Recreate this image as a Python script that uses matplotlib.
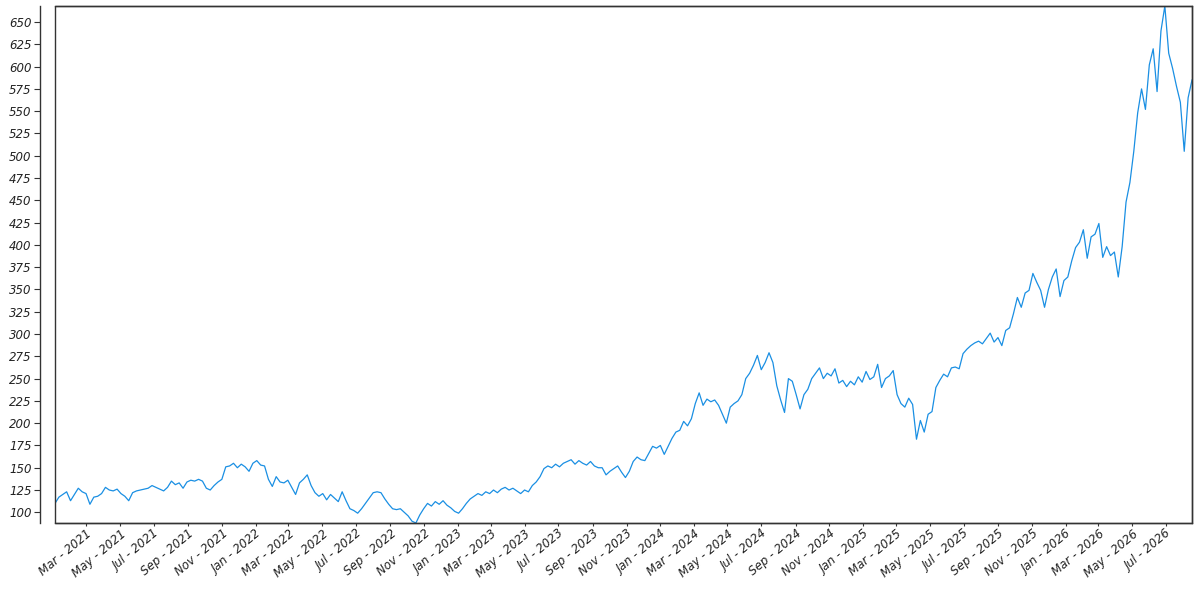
import matplotlib
matplotlib.use("Agg")
import matplotlib.pyplot as plt
import matplotlib.dates as mdates
from matplotlib.patches import Rectangle
import pandas as pd

plt.rcParams["font.family"] = ["DejaVu Sans"]
plt.rcParams["font.style"] = "italic"

start_date = "2021-01-04"

prices_2021_2022 = [
    110, 117, 120, 123, 113, 120, 127, 123, 121, 109, 117, 118, 121, 128, 125, 124,
    126, 121, 118, 113, 122, 124, 125, 126, 127, 130, 128, 126, 124, 128, 135, 131,
    133, 127, 134, 136, 135, 137, 135, 127, 125, 130, 134, 137, 151, 152, 155, 150,
    154, 151, 146, 155, 158, 153, 152, 137, 129, 140, 134, 133, 136, 128, 120, 133,
    137, 142, 130, 122, 118, 121, 114, 120, 116, 112, 123, 113, 104, 102, 99, 104,
    110, 116, 122, 123, 122, 115, 109, 104, 103,
]
prices_2022_2024 = [
    104, 100, 96, 90, 88, 97, 104, 110, 107, 112, 109, 113, 108, 105, 101, 99,
    104, 110, 115, 118, 121, 119, 123, 121, 125, 122, 126, 128, 125, 127, 124, 121,
    125, 123, 130, 134, 140, 149, 152, 150, 154, 151, 155, 157, 159, 154, 158, 155,
    153, 157, 152, 150,
]
prices_2024_2025 = [
    150, 142, 146, 149, 152, 145, 139, 146, 157, 162, 159, 158, 166, 174, 172, 175,
    165, 174, 183, 190, 192, 202, 197, 205, 222, 234, 220, 227, 224, 226, 220, 210,
    200, 218, 222, 225, 232, 250, 256, 265, 276, 260, 268, 279, 268, 242, 226, 212,
    250, 247, 232, 216, 232, 238, 250, 256, 262, 250, 256, 253, 261, 245, 248, 241,
    247, 243, 252, 246, 258, 249, 252, 266, 240, 250, 253, 259, 232, 222, 218, 228,
    221, 182, 203, 190, 210, 213, 240, 248, 255, 252, 262, 263, 261,
]
prices_2025_2026 = [
    278, 283, 287, 290, 292, 289, 295, 301, 291, 296, 287, 304, 307, 323, 341, 330,
    346, 349, 368, 358, 349, 330, 350, 364, 373, 342, 360, 364, 382, 397, 403, 417,
    385, 409, 412, 424, 386, 398, 388, 392, 364, 398, 448, 470, 505, 548, 575, 552,
    602, 620, 572, 640, 668, 615, 598, 578, 560, 505, 565, 585,
]

values = prices_2021_2022 + prices_2022_2024 + prices_2024_2025 + prices_2025_2026
dates = pd.date_range(start_date, periods=len(values), freq="7D")

line_color = "#1a8fe3"
frame_color = "#333333"

fig = plt.figure(figsize=(12, 6), dpi=100)
ax = fig.add_axes([55 / 1200, 1 - 523 / 600, (1192 - 55) / 1200, (523 - 6) / 600])

ax.plot(dates, values, color=line_color, linewidth=0.9)
ax.margins(x=0, y=0)

ax.spines["left"].set_position(("outward", 10.8))
for side in ["left", "bottom", "top", "right"]:
    ax.spines[side].set_color(frame_color)
    ax.spines[side].set_linewidth(1.0)
ax.add_patch(Rectangle((0, 0), 1, 1, transform=ax.transAxes, fill=False,
                       edgecolor=frame_color, linewidth=1.0, clip_on=False, zorder=5))

ax.set_yticks(list(range(100, 651, 25)))
ax.xaxis.set_major_locator(mdates.MonthLocator(bymonth=[1, 3, 5, 7, 9, 11]))
ax.xaxis.set_major_formatter(mdates.DateFormatter("%b - %Y"))

ax.tick_params(axis="y", length=4, width=0.8, color=frame_color, labelsize=8.5,
               pad=2, labelcolor="#222222")
ax.tick_params(axis="x", length=2, width=0.8, color=frame_color, labelsize=8.5,
               pad=1, labelcolor="#222222")
plt.setp(ax.get_xticklabels(), rotation=40, ha="right", rotation_mode="anchor")

fig.savefig("out.png", dpi=100)
